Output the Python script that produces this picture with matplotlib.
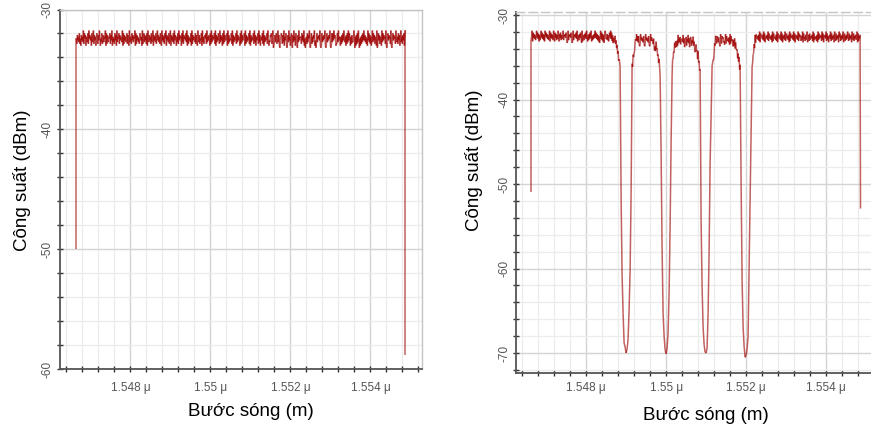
import matplotlib
matplotlib.use("Agg")
import matplotlib.pyplot as plt
import numpy as np
from matplotlib.collections import LineCollection
from matplotlib.ticker import MultipleLocator, FuncFormatter

plt.rcParams.update({
    "font.family": ["Liberation Sans", "DejaVu Sans"],
    "font.size": 8.5,
})

# ── Data (wavelength in nm, power in dBm) ───────────────────────────

x_lim = (1546.24, 1555.29)
step = 0.0125

# left: flat source spectrum
left_start, left_end = 1546.65, 1554.875
left_level = -32.5
left_edges = (-50.0, -58.8)

# right: spectrum after the 4 grating notches
right_start, right_end = 1546.625, 1554.86
right_edges = (-51.0, -52.9)
notch_centers = [1549.0, 1550.0, 1551.0, 1552.0]
notch_half = 0.15
band_levels = [-32.6, -33.0, -33.1, -33.0, -32.7]
notch_dx = [-0.125, -0.1, -0.075, -0.05, -0.025, 0.0, 0.025, 0.05, 0.075, 0.1, 0.125]
notch_db = [
    [-51.5, -60.8, -65.3, -68.8, -69.3, -70.0, -69.5, -68.3, -64.9, -60.2, -51.1],
    [-46.3, -57.8, -65.3, -68.0, -69.6, -70.1, -69.4, -67.5, -62.9, -55.1, -45.0],
    [-54.3, -62.2, -66.9, -69.0, -69.9, -70.0, -69.4, -65.3, -58.0, -47.5, -42.0],
    [-49.9, -61.4, -66.9, -69.2, -70.5, -70.3, -69.5, -68.0, -60.0, -51.9, -44.0],
]
# roll-off next to each notch (dB added to the band samples)
droop_in = [-0.1, -0.15, -0.2, -0.3, -0.4, -0.5, -0.6, -0.75, -0.9, -1.1,
            -1.3, -1.6, -1.9, -2.3, -2.7, -3.1, -3.4]
droop_out = [-3.5, -2.9, -2.2, -1.6, -1.1, -0.7, -0.4, -0.2, -0.1]

# trace ripple, one digit per sample, digit -> dB offset
noise_digits = (
    "5274638251746392857164382957461835927461385274961538247365918274"
    "3658274916352847193658274653918274635827419365284736591827463528"
    "7461925837462819537462835917463825947362851947362859174638259174"
    "6382947516382947561839275648391726453819274653827419637254819362"
    "4758293647518293746582917364852937461829375468192735468291736458"
    "2937465182937456819273645829173645829371645829371564829173645829"
    "5143768259014736825937104685273916485027394615820739461852073946"
    "6628473915046283759104826375914028365749102836475910283647591028"
    "3849576122839465162738495361728394851627334950617283940516273849"
    "4736251948372615938472651903847265193847562910384756291038475629"
    "5362847159362748159263748195263748591627384952617384952637481952"
)
noise_db = [-0.7, -0.52, -0.37, -0.23, -0.08, 0.08, 0.23, 0.37, 0.52, 0.75]

x_major, x_minor = 2.0, 0.4
line_color = "#9E0000"


def band(x0, x1, level, digits, k, pre=None, post=None):
    xs = np.arange(x0, x1 + 1e-9, step)
    ys = np.array([level + noise_db[int(digits[(k + i) % len(digits)])]
                   for i in range(len(xs))])
    if pre:
        n = min(len(pre), len(ys))
        ys[:n] += pre[:n]
    if post:
        n = min(len(post), len(ys))
        ys[-n:] += post[-n:]
    return list(xs), list(ys), k + len(xs)


def draw_trace(ax, xs, ys):
    pts = np.column_stack([xs, ys])
    segs = np.stack([pts[:-1], pts[1:]], axis=1)
    ax.add_collection(LineCollection(segs, colors=line_color, linewidths=1.1,
                                     alpha=0.62))


def style_axes(ax, ylim, ypad, xpad, top_dash=False):
    ax.set_xlim(x_lim)
    ax.set_ylim(ylim)
    ax.xaxis.set_major_locator(MultipleLocator(x_major))
    ax.xaxis.set_minor_locator(MultipleLocator(x_minor))
    ax.yaxis.set_major_locator(MultipleLocator(10))
    ax.yaxis.set_minor_locator(MultipleLocator(2))
    ax.xaxis.set_major_formatter(FuncFormatter(lambda v, p: f"{v / 1000:g} \u03bc"))
    ax.yaxis.set_major_formatter(FuncFormatter(lambda v, p: f"{v:.0f}"))
    ax.set_axisbelow(True)
    ax.grid(which="minor", color="#ECECEC", lw=0.9)
    ax.grid(which="major", color="#D4D4D4", lw=1.0)
    ax.tick_params(which="both", direction="inout", length=5, width=1.0,
                   color="#333333", labelcolor="#555555", labelsize=8.5)
    ax.tick_params(axis="y", labelrotation=90, pad=ypad)
    ax.tick_params(axis="x", pad=xpad, length=4)
    for lab in ax.get_yticklabels():
        lab.set_va("center")
    for s in ("left", "bottom"):
        ax.spines[s].set_color("#555555")
        ax.spines[s].set_linewidth(1.3)
    for s in ("top", "right"):
        ax.spines[s].set_color("#C4C4C4")
        ax.spines[s].set_linewidth(1.0)
    if top_dash:
        ax.spines["top"].set_linestyle((0, (6, 3)))


fig = plt.figure(figsize=(8.71, 4.28), dpi=100)

# ── Left panel ──────────────────────────────────────────────────────
ax1 = fig.add_axes([60 / 871, 59 / 428, 362 / 871, 359.5 / 428])
xs, ys, _ = band(left_start, left_end, left_level, noise_digits, 0)
draw_trace(ax1, [left_start] + xs + [left_end], [left_edges[0]] + ys + [left_edges[1]])
style_axes(ax1, (-60, -30), ypad=2, xpad=7)

# ── Right panel ─────────────────────────────────────────────────────
ax2 = fig.add_axes([515.7 / 871, 55.3 / 428, 362 / 871, 361 / 428])
rev = noise_digits[::-1]
bx = [right_start]
by = [right_edges[0]]
k = 0
starts = [right_start] + [c + notch_half for c in notch_centers]
ends = [c - notch_half for c in notch_centers] + [right_end]
for i in range(len(band_levels)):
    xs, ys, k = band(starts[i], ends[i], band_levels[i], rev, k,
                     pre=droop_out if i > 0 else None,
                     post=droop_in if i < len(notch_centers) else None)
    bx += xs
    by += ys
    if i < len(notch_centers):
        bx += [notch_centers[i] + d for d in notch_dx]
        by += notch_db[i]
bx.append(right_end)
by.append(right_edges[1])
draw_trace(ax2, bx, by)
style_axes(ax2, (-72.33, -29.6), ypad=1, xpad=5, top_dash=True)

# ── Axis titles ─────────────────────────────────────────────────────
fig.text(22 / 871, 1 - 180 / 428, "Công suất (dBm)", rotation=90,
         ha="center", va="center", fontsize=13.5)
fig.text(251 / 871, 1 - 411 / 428, "Bước sóng (m)",
         ha="center", va="center", fontsize=13.5)
fig.text(474 / 871, 1 - 160 / 428, "Công suất (dBm)", rotation=90,
         ha="center", va="center", fontsize=13.5)
fig.text(706 / 871, 1 - 415 / 428, "Bước sóng (m)",
         ha="center", va="center", fontsize=13.5)

fig.savefig("out.png", dpi=100)
